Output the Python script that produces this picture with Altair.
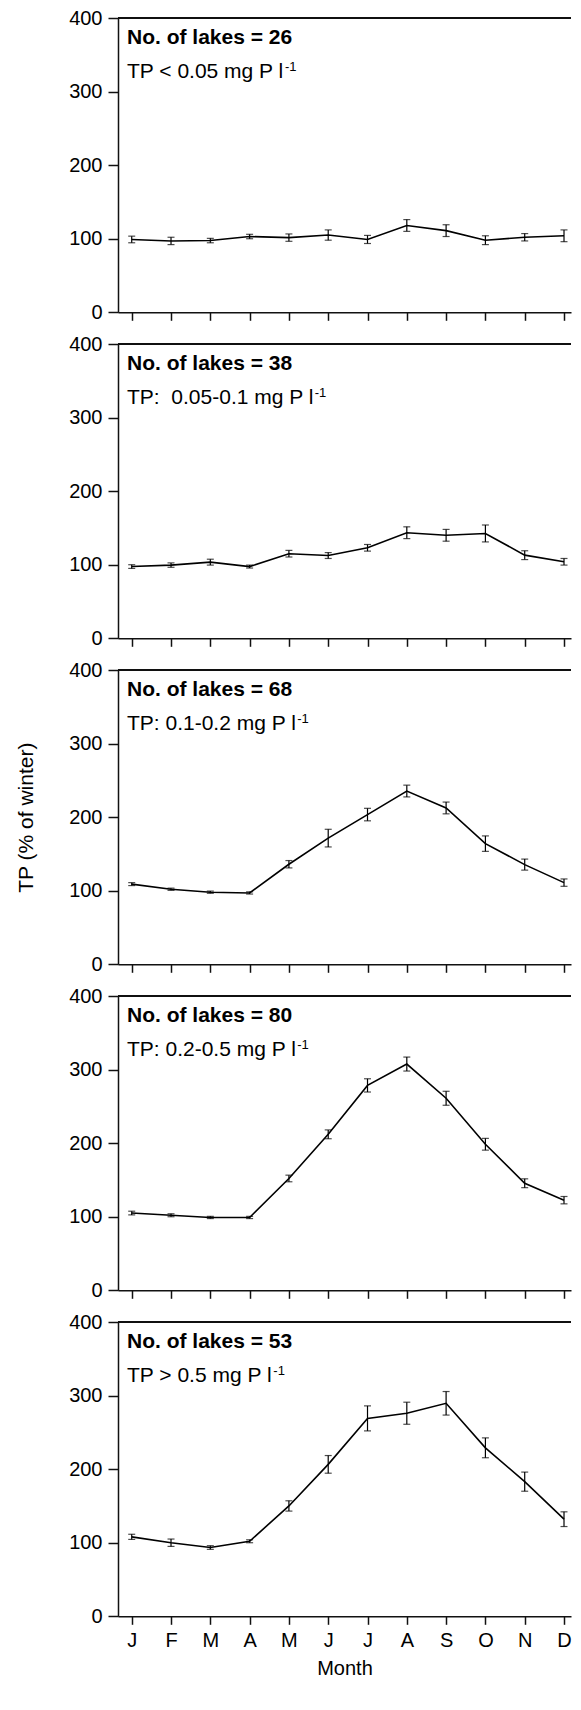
import altair as alt
import pandas as pd

FONT = "Liberation Sans"

months = list(range(1, 13))
month_letters = ["J", "F", "M", "A", "M", "J", "J", "A", "S", "O", "N", "D"]
y_ticks = [0, 100, 200, 300, 400]

lake_counts = [26, 38, 68, 80, 53]
tp_classes = [
    "TP < 0.05 mg P l",
    "TP:\u00a0 0.05-0.1 mg P l",
    "TP: 0.1-0.2 mg P l",
    "TP: 0.2-0.5 mg P l",
    "TP > 0.5 mg P l",
]
unit_exp = "-1"

means_26 = [99, 97, 97.5, 103, 101.5, 105, 99, 118, 111, 98, 102, 104]
err_26 = [4.5, 5, 3, 3, 5, 7, 5.5, 8, 8, 6, 5, 8]
means_38 = [97.5, 99.5, 103.5, 97.5, 115, 112.5, 123, 143.5, 140, 142.5, 113, 104]
err_38 = [2.5, 3, 4, 2, 4.5, 4, 4.5, 8, 8, 11.5, 6, 4.5]
means_68 = [109, 102, 98, 97, 136, 171.5, 203.5, 235.5, 212.5, 164, 135.5, 111]
err_68 = [2, 1.5, 1.5, 1.5, 5, 12, 8.5, 8, 8, 10.5, 7.5, 5]
means_80 = [105, 102, 99, 99, 152, 212, 278.5, 307.5, 261, 198.5, 145.5, 122.5]
err_80 = [2.5, 2, 1.5, 1.5, 4.5, 6, 9, 9.5, 9.5, 8, 6, 5]
means_53 = [108, 100, 93.5, 102, 150, 206.5, 269, 276, 289.5, 229, 183, 132]
err_53 = [3.5, 5, 2.5, 2, 7, 12, 17, 15, 16, 13.5, 13, 10]

all_means = [means_26, means_38, means_68, means_80, means_53]
all_errs = [err_26, err_38, err_68, err_80, err_53]

label_expr = "[" + ",".join("'%s'" % m for m in month_letters) + "][datum.value - 1]"

# Arial / Liberation Sans advance widths (per 1000 em) used to place the superscript
ARIAL_W = {" ": 278, "\u00a0": 278, "T": 611, "P": 667, "<": 584, ">": 584, ":": 278,
           ".": 278, "-": 333, "m": 833, "g": 556, "l": 222}


def text_width(s, size):
    return sum(ARIAL_W.get(c, 556) for c in s) * size / 1000.0


PW = 453
PH = 294.3
FS_TXT = 21


def panel(idx):
    means = all_means[idx]
    errs = all_errs[idx]
    df = pd.DataFrame({
        "month": months,
        "tp": means,
        "lo": [m - e for m, e in zip(means, errs)],
        "hi": [m + e for m, e in zip(means, errs)],
    })
    xscale = alt.Scale(domain=[0.651, 12.178], nice=False, zero=False)
    yscale = alt.Scale(domain=[0, 400], nice=False)
    bottom = idx == 4
    if bottom:
        xaxis = alt.Axis(values=months, labelExpr=label_expr,
                         grid=False, tickSize=8, labelPadding=6, titlePadding=8,
                         labelFlush=False)
    else:
        xaxis = alt.Axis(values=months, labels=False, grid=False, tickSize=8)
    ykw = dict(values=y_ticks, grid=False, tickSize=10, labelPadding=6)
    if idx == 2:
        ykw.update(titlePadding=32, titleFontSize=21)
        ytitle = "TP (% of winter)"
    else:
        ytitle = ""

    def yenc(field):
        return alt.Y(field, scale=yscale, axis=alt.Axis(**ykw), title=ytitle)

    x_enc = alt.X("month:Q", scale=xscale, axis=xaxis, title="Month" if bottom else "")
    base = alt.Chart(df).encode(x=x_enc)
    line = base.mark_line(color="black", strokeWidth=1.6).encode(y=yenc("tp:Q"))
    bars = base.mark_rule(color="black", strokeWidth=1.2).encode(y=yenc("lo:Q"), y2="hi:Q")
    cap_lo = base.mark_tick(orient="horizontal", size=7, thickness=1.2, color="black").encode(
        y=yenc("lo:Q"))
    cap_hi = base.mark_tick(orient="horizontal", size=7, thickness=1.2, color="black").encode(
        y=yenc("hi:Q"))
    top = alt.Chart(df).mark_rule(color="#111", strokeWidth=1.5).encode(y=alt.value(0))
    tdf = pd.DataFrame({"a": ["No. of lakes = %d" % lake_counts[idx]],
                        "b": [tp_classes[idx]], "c": [unit_exp]})
    t1 = alt.Chart(tdf).mark_text(align="left", baseline="alphabetic", fontWeight="bold",
                                  fontSize=FS_TXT, font=FONT, color="black").encode(
        x=alt.value(9), y=alt.value(25.7), text="a:N")
    t2 = alt.Chart(tdf).mark_text(align="left", baseline="alphabetic",
                                  fontSize=FS_TXT, font=FONT, color="black").encode(
        x=alt.value(9), y=alt.value(59.5), text="b:N")
    t3 = alt.Chart(tdf).mark_text(align="left", baseline="alphabetic",
                                  fontSize=13, font=FONT, color="black").encode(
        x=alt.value(9 + text_width(tp_classes[idx], FS_TXT) + 1), y=alt.value(53), text="c:N")
    return alt.layer(line, bars, cap_lo, cap_hi, top, t1, t2, t3).properties(width=PW, height=PH)


chart = alt.vconcat(*[panel(i) for i in range(5)], spacing=31, bounds="flush").properties(
    padding={"left": 7, "top": 0, "right": 0, "bottom": 0}
).configure_axis(
    domainColor="#111", tickColor="#111", domainWidth=1.5, tickWidth=1.5,
    labelFont=FONT, labelFontSize=20, labelColor="black",
    titleFont=FONT, titleFontSize=20, titleFontWeight="normal", titleColor="black",
).configure_view(strokeWidth=0)

chart.save("out.html", embed_options={"renderer": "svg", "actions": False})
